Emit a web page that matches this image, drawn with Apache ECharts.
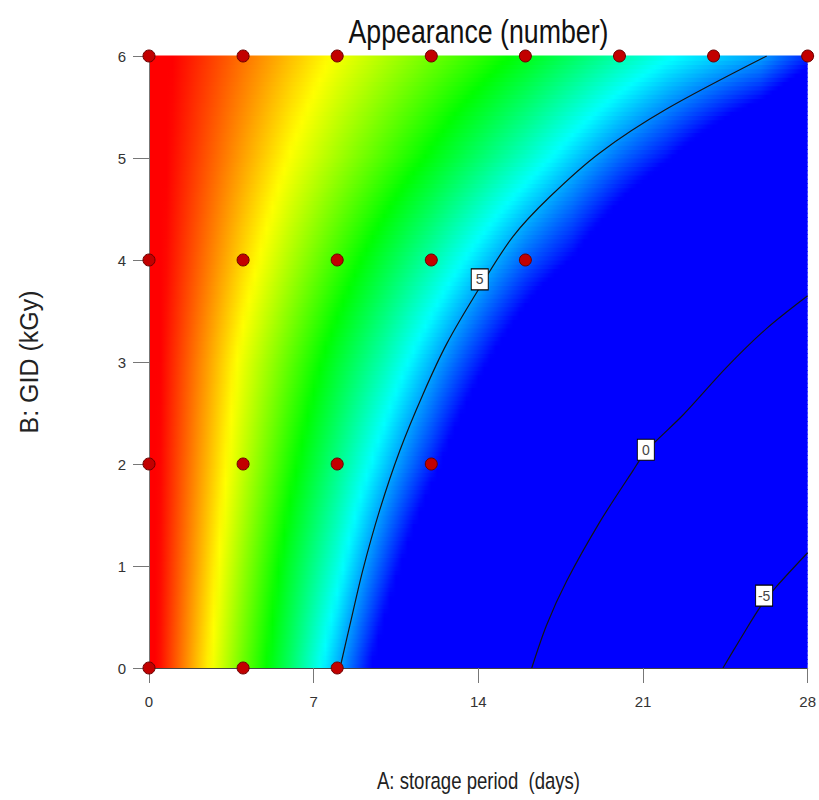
<!DOCTYPE html>
<html>
<head>
<meta charset="utf-8">
<script src="https://cdn.jsdelivr.net/npm/echarts@6/dist/echarts.min.js"></script>
<style>
html,body{margin:0;padding:0;background:#ffffff;}
#chart{width:819px;height:800px;}
</style>
</head>
<body>
<div id="chart"></div>
<script>
// ---- data ----
const aNodes = [0, 2, 4, 6, 8, 10, 12, 14, 16, 18, 20, 22, 24, 26, 28]; // storage period (days)
const bNodes = [0, 1, 2, 3, 4, 5, 6];                                   // GID (kGy)
// estimated Appearance values at each (A, B) node, one row per B node
const zB0 = [9.6, 8.45, 7.34, 6.28, 5.10, 3.83, 2.61, 1.39, 0.17, -1.06, -2.29, -3.52, -4.75, -5.98, -7.21];
const zB1 = [9.6, 8.58, 7.56, 6.57, 5.64, 4.56, 3.46, 2.33, 1.19, 0.05, -1.00, -2.05, -3.10, -4.16, -5.21];
const zB2 = [9.6, 8.69, 7.80, 6.93, 6.11, 5.25, 4.37, 3.40, 2.40, 1.40, 0.40, -0.60, -1.60, -2.60, -3.60];
const zB3 = [9.6, 8.79, 7.99, 7.27, 6.56, 5.88, 5.13, 4.35, 3.55, 2.75, 1.94, 1.13, 0.32, -0.48, -1.29];
const zB4 = [9.6, 8.95, 8.30, 7.69, 7.10, 6.51, 5.93, 5.31, 4.69, 4.16, 3.45, 2.74, 2.03, 1.32, 0.60];
const zB5 = [9.6, 9.09, 8.58, 8.08, 7.63, 7.18, 6.73, 6.26, 5.78, 5.26, 4.73, 4.25, 3.66, 3.06, 2.46];
const zB6 = [9.6, 9.21, 8.82, 8.43, 8.05, 7.71, 7.37, 7.04, 6.69, 6.31, 5.93, 5.56, 5.29, 5.04, 4.41];
const zRows = [zB0, zB1, zB2, zB3, zB4, zB5, zB6];

// design points
const designA = [0, 4, 8, 12, 16, 20, 24, 28, 0, 4, 8, 12, 16, 0, 4, 8, 12, 0, 4, 8];
const designB = [6, 6, 6, 6, 6, 6, 6, 6, 4, 4, 4, 4, 4, 2, 2, 2, 2, 0, 0, 0];

// contour lines
const contour5  = [[8.12,0],[8.54,0.42],[9.09,0.96],[9.81,1.55],[10.66,2.13],[11.64,2.68],[12.66,3.18],[14.06,3.73],[15.47,4.23],[17.04,4.62],[19.16,5.05],[22.0,5.48],[26.26,6.0]];
const contour0  = [[16.27,0],[16.9,0.42],[17.75,0.85],[19.16,1.43],[20.56,1.93],[21.15,2.13],[22.7,2.48],[24.56,2.95],[26.26,3.33],[28,3.65]];
const contourM5 = [[24.4,0],[25.1,0.27],[25.96,0.59],[26.68,0.8],[28,1.13]];
const contourLabelA = [14.06, 21.12, 26.15];
const contourLabelB = [3.81, 2.14, 0.71];
const contourLabelText = ['5', '0', '-5'];

const xTickInterval = 7;
const yTickInterval = 1;

const titleText = 'Appearance (number)';
const xName = 'A: storage period  (days)';
const yName = 'B: GID (kGy)';

// ---- colour scale ----
const zMin = 4.2, zMax = 9.4;
const colourStops = [[0,[0,0,255]],[0.25,[0,255,255]],[0.5,[0,255,0]],[0.75,[255,255,0]],[1,[255,0,0]]];
function colourOf(z){
  let t = (z - zMin) / (zMax - zMin);
  t = Math.max(0, Math.min(1, t));
  let k = 0;
  while (k < colourStops.length - 2 && t > colourStops[k+1][0]) k++;
  const s0 = colourStops[k], s1 = colourStops[k+1];
  const f = (t - s0[0]) / (s1[0] - s0[0]);
  const c = [0,1,2].map(i => Math.round(s0[1][i] + (s1[1][i] - s0[1][i]) * f));
  return 'rgb(' + c.join(',') + ')';
}
function seg(nodes, v){
  let i = 0;
  while (i < nodes.length - 2 && v > nodes[i+1]) i++;
  return [i, (v - nodes[i]) / (nodes[i+1] - nodes[i])];
}
function zAt(a, b){
  const [i, u] = seg(aNodes, a);
  const [j, w] = seg(bNodes, b);
  const z00 = zRows[j][i], z10 = zRows[j][i+1], z01 = zRows[j+1][i], z11 = zRows[j+1][i+1];
  return (1-u)*(1-w)*z00 + u*(1-w)*z10 + (1-u)*w*z01 + u*w*z11;
}

const sans = "'Liberation Sans',Arial,sans-serif";
const aMin = aNodes[0], aMax = aNodes[aNodes.length-1];
const bMin = bNodes[0], bMax = bNodes[bNodes.length-1];

const bandData = bNodes.slice(0, -1).map((b, j) => [aMin, b, j]);

function renderBand(params, api){
  const j = api.value(2);
  const b0 = bNodes[j], b1 = bNodes[j+1];
  const sub = 24;
  const children = [];
  for (let k = 0; k < sub; k++){
    const lo = b0 + (b1 - b0) * k / sub;
    const hi = b0 + (b1 - b0) * (k + 1) / sub;
    const mid = (lo + hi) / 2;
    const pTop = api.coord([aMin, hi]);
    const pBot = api.coord([aMax, lo]);
    const stops = [];
    const steps = 112;
    for (let s = 0; s <= steps; s++){
      const a = aMin + (aMax - aMin) * s / steps;
      stops.push({offset: s / steps, color: colourOf(zAt(a, mid))});
    }
    children.push({
      type: 'rect',
      shape: {x: pTop[0], y: pTop[1] - 0.4, width: pBot[0] - pTop[0], height: pBot[1] - pTop[1] + 0.8},
      style: {fill: new echarts.graphic.LinearGradient(0, 0, 1, 0, stops), stroke: null},
      silent: true
    });
  }
  return {type: 'group', children: children};
}

const chart = echarts.init(document.getElementById('chart'), null, {renderer: 'svg'});
const lineStyle = {color: '#151515', width: 1.2};
const gridLeft = 149, gridRight = 11, gridTop = 56, gridBottom = 132;
const plotCenterX = (gridLeft + (819 - gridRight)) / 2;

const option = {
  animation: false,
  backgroundColor: '#ffffff',
  grid: {left: gridLeft, right: gridRight, top: gridTop, bottom: gridBottom, containLabel: false},
  graphic: [
    {
      type: 'text', x: plotCenterX, y: 31, scaleX: 0.81, silent: true,
      style: {text: titleText, fontSize: 33, fontFamily: sans, fill: '#111',
              align: 'center', verticalAlign: 'middle', textAlign: 'center', textVerticalAlign: 'middle'}
    },
    {
      type: 'text', x: plotCenterX, y: 781, scaleX: 0.79, silent: true,
      style: {text: xName, fontSize: 23.5, fontFamily: sans, fill: '#222',
              align: 'center', verticalAlign: 'middle', textAlign: 'center', textVerticalAlign: 'middle'}
    }
  ],
  xAxis: [
    {
      type: 'value', min: aMin, max: aMax, interval: xTickInterval, position: 'bottom', z: 10,
      axisLine: {show: true, lineStyle: {color: '#222', width: 1}},
      axisTick: {show: true, length: 15, lineStyle: {color: '#777'}},
      axisLabel: {fontFamily: sans, fontSize: 15, color: '#333', margin: 26},
      splitLine: {show: false}
    },
    {
      type: 'value', min: aMin, max: aMax, interval: xTickInterval, position: 'top', z: 10,
      axisLine: {show: true, lineStyle: {color: '#444', width: 1}},
      axisTick: {show: false}, axisLabel: {show: false}, splitLine: {show: false}
    }
  ],
  yAxis: [
    {
      type: 'value', min: bMin, max: bMax, interval: yTickInterval, position: 'left', z: 10,
      name: yName, nameLocation: 'middle', nameGap: 108, nameRotate: 90,
      nameTextStyle: {fontFamily: sans, fontSize: 25, color: '#222'},
      axisLine: {show: true, lineStyle: {color: '#777', width: 1}},
      axisTick: {show: true, length: 16, lineStyle: {color: '#777'}},
      axisLabel: {fontFamily: sans, fontSize: 15, color: '#333', margin: 23},
      splitLine: {show: false}
    },
    {
      type: 'value', min: bMin, max: bMax, interval: yTickInterval, position: 'right', z: 10,
      axisLine: {show: true, lineStyle: {color: '#777', width: 1}},
      axisTick: {show: false}, axisLabel: {show: false}, splitLine: {show: false}
    }
  ],
  series: [
    {
      type: 'custom', name: 'field', renderItem: renderBand, data: bandData,
      encode: {x: 0, y: 1}, z: 1, silent: true
    },
    {type: 'line', data: contour5, smooth: 0.3, symbol: 'none', lineStyle: lineStyle, z: 5, silent: true},
    {type: 'line', data: contour0, smooth: 0.3, symbol: 'none', lineStyle: lineStyle, z: 5, silent: true},
    {type: 'line', data: contourM5, smooth: 0.3, symbol: 'none', lineStyle: lineStyle, z: 5, silent: true},
    {
      type: 'scatter', z: 8, silent: true,
      data: contourLabelA.map((a, i) => [a, contourLabelB[i], contourLabelText[i]]),
      symbol: 'rect', symbolSize: [17, 21],
      itemStyle: {color: '#ffffff', borderColor: '#000', borderWidth: 1, opacity: 1},
      label: {show: true, position: 'inside', formatter: p => p.data[2], fontFamily: sans, fontSize: 14, color: '#444'}
    },
    {
      type: 'scatter', z: 20, clip: false, silent: true,
      data: designA.map((a, i) => [a, designB[i]]),
      symbol: 'circle', symbolSize: 12,
      itemStyle: {color: '#c20000', borderColor: '#6a0000', borderWidth: 1, opacity: 1}
    }
  ]
};
chart.setOption(option);
</script>
</body>
</html>
